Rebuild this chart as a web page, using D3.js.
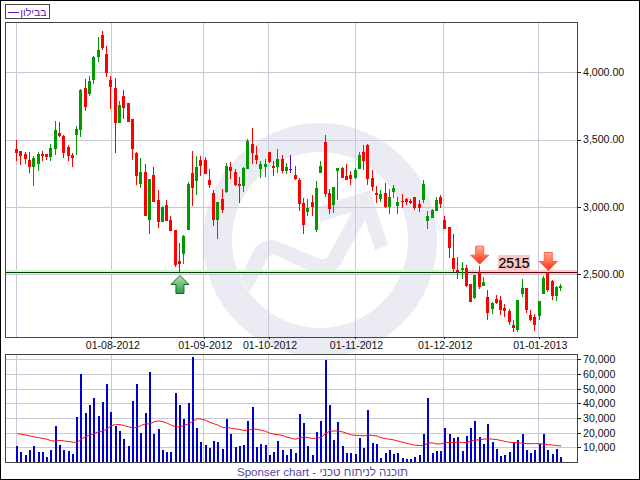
<!DOCTYPE html>
<html><head><meta charset="utf-8">
<script src="https://cdn.jsdelivr.net/npm/d3@7"></script>
<style>html,body{margin:0;padding:0;background:#fff;overflow:hidden}svg{display:block}text{font-family:"Liberation Sans",Arial,sans-serif}</style>
</head><body><svg id="c" width="640" height="480"></svg>
<script>
const opens=[3432,3417,3395,3350,3299,3321,3395,3395,3373,3432,3550,3528,3447,3387,3536,3573,3884,3839,3943,4114,4277,4136,3943,3884,3625,3825,3773,3654,3402,3173,3261,2898,3239,3047,2884,3010,2898,2824,2595,2646,2824,3254,3195,3350,3350,3202,3106,2898,3055,3107,3294,3256,3167,3152,3279,3465,3383,3279,3294,3405,3301,3294,3353,3264,3284,3234,3197,3025,2958,3032,2824,3249,3480,3100,3010,3264,3286,3226,3234,3212,3279,3405,3458,3212,3100,3055,3100,2995,3107,3003,3040,3055,3040,3070,3017,3047,2891,2920,2965,3070,2898,2853,2622,2532,2532,2547,2428,2323,2510,2413,2331,2241,2316,2308,2249,2226,2122,2084,2353,2398,2196,2181,2189,2353,2510,2450,2338,2398];
const closes=[3402,3380,3358,3299,3365,3395,3380,3373,3439,3573,3528,3402,3380,3365,3580,3869,3743,3936,4114,4165,4180,3995,3891,3625,3758,3736,3632,3432,3232,3261,2935,3210,3039,2884,2995,2891,2817,2565,2572,2780,3173,3143,3299,3306,3247,3165,2898,3032,2973,3301,3264,3159,3152,3286,3488,3398,3346,3316,3316,3331,3286,3353,3264,3294,3284,3204,3018,2868,2988,2995,3137,3301,3092,2980,3144,3286,3212,3197,3204,3271,3383,3338,3204,3144,3085,3092,2995,3070,3137,3032,3032,3032,3030,2988,2988,3167,2935,2973,3047,3017,2838,2696,2540,2517,2547,2413,2293,2495,2405,2443,2211,2286,2286,2234,2226,2144,2099,2308,2398,2234,2159,2122,2301,2473,2383,2338,2405,2413];
const highs=[3499,3417,3407,3407,3380,3410,3417,3395,3469,3639,3632,3536,3462,3402,3602,3877,3951,3973,4121,4262,4306,4195,3973,3958,3788,3869,3773,3654,3410,3365,3321,3210,3299,3121,3002,3047,2928,2824,2728,2787,3187,3417,3380,3380,3373,3284,3128,3039,3129,3323,3331,3279,3219,3294,3502,3585,3450,3338,3353,3405,3338,3428,3383,3323,3383,3301,3212,3062,3055,3085,3189,3338,3532,3129,3144,3286,3294,3316,3264,3286,3405,3458,3465,3271,3152,3122,3174,3129,3159,3070,3092,3062,3055,3070,3050,3197,2968,2980,3070,3085,2928,2853,2801,2629,2592,2570,2428,2495,2562,2480,2383,2294,2346,2338,2278,2241,2159,2308,2465,2398,2234,2204,2301,2487,2515,2458,2413,2428];
const lows=[3343,3313,3321,3254,3153,3269,3343,3350,3343,3387,3521,3365,3343,3299,3387,3521,3713,3825,3914,4077,4165,3965,3728,3402,3625,3654,3632,3350,3165,3136,2928,2795,3039,2839,2884,2891,2817,2550,2515,2572,2824,3002,3084,3232,3247,3136,2854,2758,2955,3100,3204,3152,3025,3107,3279,3316,3316,3212,3219,3323,3226,3249,3249,3241,3249,3197,2965,2801,2928,2928,2816,3249,3070,2943,2950,3047,3212,3197,3159,3204,3279,3271,3159,3115,3025,3032,2988,2943,3062,2943,2988,3010,3017,2973,2960,3025,2838,2920,2965,2988,2831,2622,2517,2465,2465,2405,2293,2316,2390,2413,2159,2204,2278,2196,2181,2122,2070,2070,2331,2211,2152,2077,2159,2353,2368,2308,2301,2376];
const volumes=[10900,6900,4900,8200,10900,6900,6900,3600,8200,24200,11500,8200,7500,5500,30800,60100,33600,39000,43800,31500,41000,53200,34200,24200,20900,15500,10900,41700,53200,19500,33600,61400,18900,22200,8200,6900,6900,47100,39000,29500,40300,71600,23500,13500,11500,9500,14200,13500,8900,29500,18900,10200,10900,11500,28200,37600,10200,12200,11500,4900,6900,14200,8200,4900,8900,6200,32800,26900,10900,4900,20200,28200,69600,39000,14900,27500,10900,6200,6200,5500,16200,9500,35600,12900,12200,2900,6200,8200,5500,6200,2900,2200,2200,3600,4900,18900,43800,6200,7500,7500,22900,18900,16200,16900,7500,17500,23500,28200,16900,12200,26200,13500,8900,4200,4900,6900,12900,14900,18900,8200,6200,8200,12200,18900,8200,5500,8900,3600];
const volumeAvg=[19300,18900,18400,17700,17100,16600,16000,15500,14400,14300,14700,14300,14000,13500,13400,15500,17500,18300,19500,20500,21000,22500,24800,25500,25500,24800,24000,23300,23500,25000,26000,26000,27500,28000,27500,26500,25000,24000,24000,25000,26000,27500,29500,29200,28500,27000,26000,25000,23400,23500,23000,22600,22100,21500,21600,22700,22300,21700,20900,19600,19000,18600,18000,16900,16200,15500,16500,17000,16500,16000,16300,16700,19500,21100,21100,21100,20500,19500,18500,18200,18000,17800,18400,18100,17700,16500,16000,15500,15000,14200,13500,12700,12000,11400,11300,11300,13000,13000,12300,12400,13200,13300,13300,13500,13300,13300,14300,15000,15100,15600,15900,15500,15300,14600,14000,13400,13300,13100,12800,12500,12500,12600,12500,12100,11800,11600,11200,11000];
const dateTickIdx=[0,22.1,43.7,58.8,79,99.7,121.9];
const dateTickLabels=["","01-08-2012","01-09-2012","01-10-2012","01-11-2012","01-12-2012","01-01-2013"];
const priceTicks=[2500,3000,3500,4000];
const volumeTicks=[10000,20000,30000,40000,50000,60000,70000];
const supportLevel=2515, supportLabel="2515", supportBreakIdx=105;
const buyIdx=[38], sellIdx=[108,124];
const legendText="בבילון";
const footerText="Sponser chart - תוכנה לניתוח טכני";

const L=5.5,R=577.5,T1=22.5,B1=337.5,T2=354.5,B2=462.5;
const x=d3.scaleLinear().domain([0,127]).range([16.7,560.6]);
const y=d3.scaleLinear().domain([2031.5,4374]).range([337,22]);
const v=d3.scaleLinear().domain([0,73400]).range([462,354.3]);
const svg=d3.select("#c");
const defs=svg.append("defs");
function grad(id,a,b){const g=defs.append("linearGradient").attr("id",id).attr("x1",0).attr("y1",0).attr("x2",0).attr("y2",1);
 g.append("stop").attr("offset",0).attr("stop-color",a);g.append("stop").attr("offset",1).attr("stop-color",b);}
grad("gUp","#b4e0b4","#2f9a40");grad("gDn","#ffb0a0","#ff2a08");
defs.append("clipPath").attr("id","wm").append("rect").attr("x",0).attr("y",0).attr("width",640).attr("height",354);

svg.append("rect").attr("width",640).attr("height",480).attr("fill","#fff");
// watermark
const wm=svg.append("g").attr("clip-path","url(#wm)").attr("fill","#ebebf4");
wm.append("path").attr("fill-rule","evenodd").attr("d",d3.arc()({innerRadius:88,outerRadius:117,startAngle:0,endAngle:2*Math.PI})).attr("transform","translate(320,240)");
wm.append("path").attr("d","M240,278 L255,248 Q262,240 273,240 L282,243 L320,259 Q324,260 327,258 L352,212 L320,222 L318,207 L370,190 L388,245 L375,250 L365,220 L342,262 Q337,270 332,272 Q325,276 318,275 L275,255 Q271,254 268,257 L250,292 Z");

// panels grid
const grid=svg.append("g").attr("stroke","#c8c8d8").attr("stroke-width",1).attr("shape-rendering","crispEdges");
dateTickIdx.forEach(d=>{const px=Math.floor(x(d))+.5;
 grid.append("line").attr("x1",px).attr("x2",px).attr("y1",T1).attr("y2",B1);
 grid.append("line").attr("x1",px).attr("x2",px).attr("y1",T2).attr("y2",B2);});
priceTicks.forEach(d=>{const p=Math.round(y(d))+.5;grid.append("line").attr("x1",L).attr("x2",R).attr("y1",p).attr("y2",p);});
volumeTicks.forEach(d=>{const p=Math.round(v(d))+.5;grid.append("line").attr("x1",L).attr("x2",R).attr("y1",p).attr("y2",p);});

// support line
const sy=Math.round(y(supportLevel));
const sup=svg.append("g").attr("shape-rendering","crispEdges");
const xb=Math.floor(x(supportBreakIdx));
sup.append("rect").attr("x",L-1).attr("y",sy-2).attr("width",xb-L+1).attr("height",4).attr("fill","#d4f4cc");
sup.append("rect").attr("x",xb).attr("y",sy-2).attr("width",R-xb).attr("height",4).attr("fill","#ffc8c8");
sup.append("rect").attr("x",L).attr("y",sy).attr("width",xb-L).attr("height",1).attr("fill","#004000");
sup.append("rect").attr("x",xb).attr("y",sy).attr("width",R-xb).attr("height",1).attr("fill","#600000");

// candles
const cg=svg.append("g").attr("shape-rendering","crispEdges");
const idx=d3.range(opens.length);
const col=i=>closes[i]>opens[i]?"#009900":closes[i]<opens[i]?"#ff0000":"#6600cc";
cg.selectAll("rect.w").data(idx).join("rect").attr("class","w")
 .attr("x",i=>Math.floor(x(i))).attr("width",1)
 .attr("y",i=>Math.round(y(highs[i]))).attr("height",i=>Math.max(1,Math.round(y(lows[i]))-Math.round(y(highs[i]))))
 .attr("fill",col);
cg.selectAll("rect.b").data(idx).join("rect").attr("class","b")
 .attr("x",i=>Math.floor(x(i))-1).attr("width",3)
 .attr("y",i=>Math.round(y(Math.max(opens[i],closes[i]))))
 .attr("height",i=>Math.max(1,Math.round(y(Math.min(opens[i],closes[i])))-Math.round(y(Math.max(opens[i],closes[i])))))
 .attr("fill",col);

// arrows
function arrow(cx,tip,dir,fill,stroke){
 const pts=[[0,0],[9,9],[4,9],[4,18],[-4,18],[-4,9],[-9,9]].map(p=>[cx+p[0],tip+dir*p[1]]);
 svg.append("path").attr("d",d3.line()(pts)+"Z").attr("fill",fill).attr("stroke",stroke).attr("stroke-width",1);
}
buyIdx.forEach(i=>arrow(x(i)+.5,y(lows[i])+3.5,1,"url(#gUp)","#0c6a20"));
sellIdx.forEach(i=>arrow(x(i)+.5,y(highs[i])-1.5,-1,"url(#gDn)","#ff6040"));

// support label
svg.append("rect").attr("x",498).attr("y",y(supportLevel)-17).attr("width",32).attr("height",16).attr("fill","#ffc8c8");
svg.append("text").attr("x",514).attr("y",y(supportLevel)-3.5).attr("text-anchor","middle").attr("font-size",14).attr("fill","#000").attr("stroke","#000").attr("stroke-width",.2).text(supportLabel);

// volume
const vg=svg.append("g").attr("shape-rendering","crispEdges");
vg.selectAll("rect").data(idx).join("rect").attr("x",i=>Math.floor(x(i))).attr("width",2)
 .attr("y",i=>Math.round(v(volumes[i]))).attr("height",i=>462-Math.round(v(volumes[i]))).attr("fill","#0000cc");
svg.append("path").attr("d",d3.line().x(i=>x(i)+.5).y(i=>v(volumeAvg[i])).curve(d3.curveLinear)(idx)).attr("fill","none").attr("stroke","#ff1010").attr("stroke-width",1);

// frames
[[T1,B1],[T2,B2]].forEach(([a,b])=>{
 const f=svg.append("g").attr("stroke","#444").attr("fill","none").attr("shape-rendering","crispEdges");
 f.append("rect").attr("x",L).attr("y",a).attr("width",R-L).attr("height",b-a);
});

// axes
const axStyle=g=>{g.select(".domain").remove();g.selectAll("line").attr("stroke","#222").attr("shape-rendering","crispEdges");g.selectAll("text").attr("font-family",'"Liberation Sans",Arial,sans-serif').attr("font-size",10.6).attr("fill","#111");};
svg.append("g").attr("transform","translate(577,0)").call(d3.axisRight(y).tickValues(priceTicks).tickSize(4).tickPadding(2).tickFormat(d3.format(",.2f"))).call(axStyle);
svg.append("g").attr("transform","translate(577,0)").call(d3.axisRight(v).tickValues(volumeTicks).tickSize(4).tickPadding(2).tickFormat(d3.format(","))).call(axStyle);
const xa=d3.scaleOrdinal().domain(dateTickIdx).range(dateTickLabels);
const xAxis=svg.append("g").attr("transform","translate(0,337)").call(d3.axisBottom(x).tickValues(dateTickIdx.slice(1)).tickSize(2).tickPadding(2.5).tickFormat(d=>xa(d))).call(axStyle);
xAxis.selectAll("text").attr("dx",1);

// legend
svg.append("rect").attr("x",5.5).attr("y",4.5).attr("width",44).attr("height",14).attr("fill","#fff").attr("stroke","#444").attr("shape-rendering","crispEdges");
svg.append("rect").attr("x",8).attr("y",12).attr("width",11).attr("height",1).attr("fill","#5a10c8");
svg.append("text").attr("x",46.5).attr("y",16).attr("text-anchor","end").attr("font-size",10.5).attr("fill","#5a20c0").text(legendText);

// footer
svg.append("text").attr("x",322.5).attr("y",476).attr("text-anchor","middle").attr("font-size",11.6).attr("fill","#5548a8").text(footerText);

// outer border
svg.append("rect").attr("x",.5).attr("y",.5).attr("width",639).attr("height",479).attr("fill","none").attr("stroke","#000").attr("shape-rendering","crispEdges");
</script></body></html>
